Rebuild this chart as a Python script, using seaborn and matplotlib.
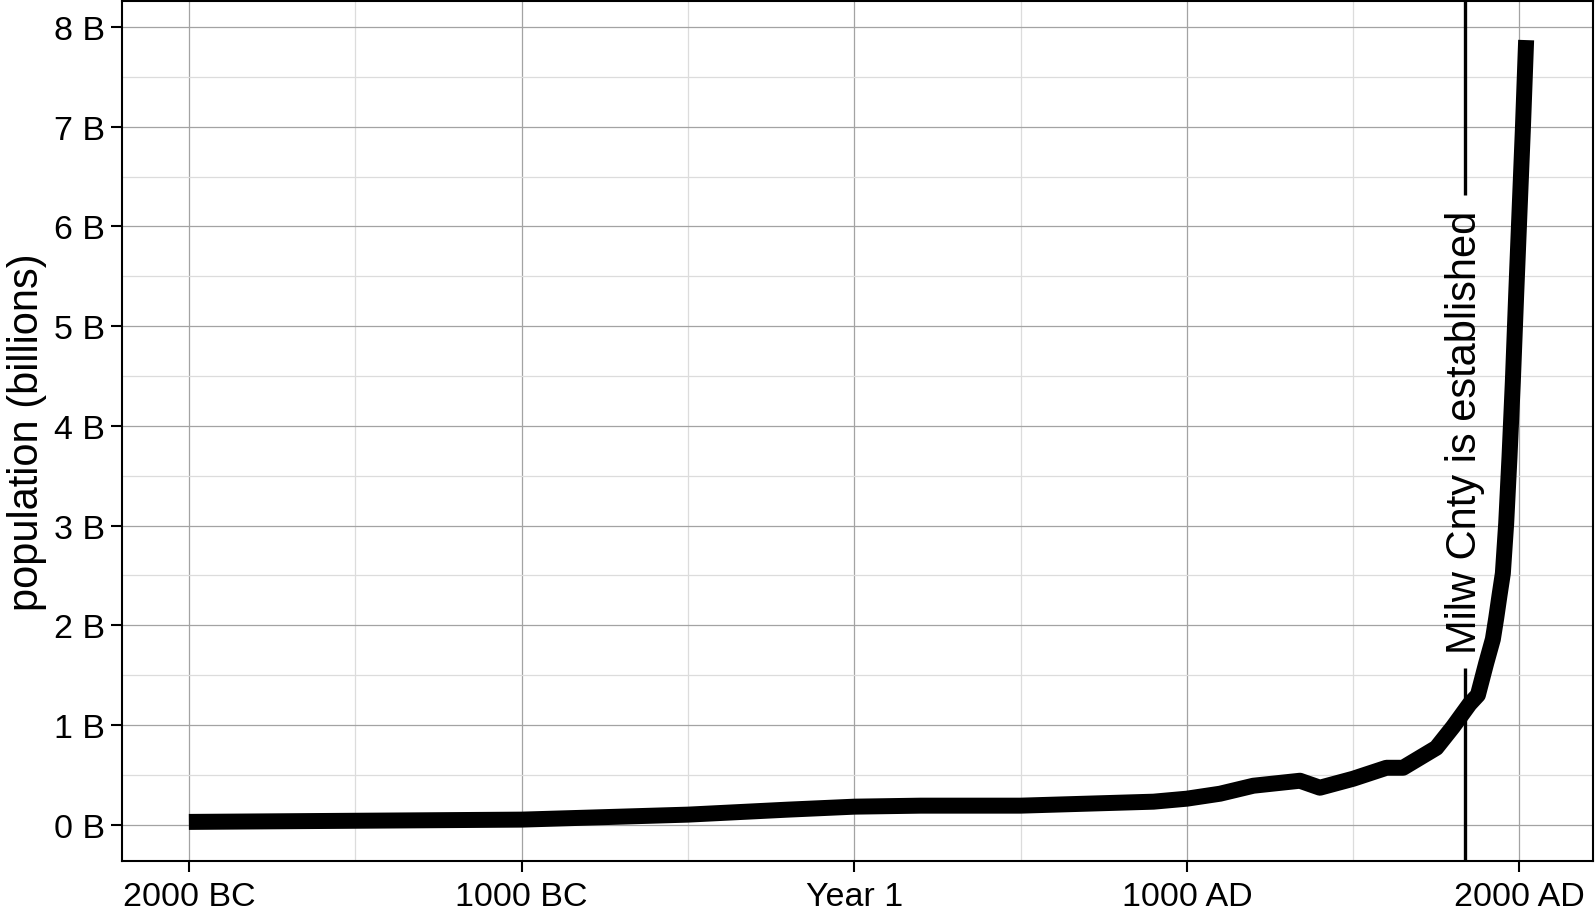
import matplotlib
matplotlib.use("Agg")
import matplotlib.pyplot as plt
from matplotlib.ticker import MultipleLocator
import pandas as pd
import seaborn as sns

# ---------------- data ----------------
years = [-2000, -1000, -500, -200, 1, 200, 400, 500, 600, 700, 800, 900,
         1000, 1100, 1200, 1340, 1400, 1500, 1600, 1650, 1750, 1800,
         1850, 1875, 1900, 1920, 1930, 1940, 1950, 1960, 1970, 1980,
         1990, 2000, 2010, 2020]
population = [0.027, 0.05, 0.10, 0.15, 0.18, 0.19, 0.19, 0.19, 0.20, 0.21,
              0.22, 0.23, 0.26, 0.31, 0.39, 0.44, 0.37, 0.46, 0.57, 0.57,
              0.77, 0.98, 1.21, 1.30, 1.62, 1.86, 2.07, 2.30, 2.52, 3.02,
              3.69, 4.44, 5.31, 6.14, 6.96, 7.87]

x_ticks = [-2000, -1000, 0, 1000, 2000]
x_tick_labels = ["2000 BC", "1000 BC", "Year 1", "1000 AD", "2000 AD"]
y_ticks = [0, 1, 2, 3, 4, 5, 6, 7, 8]
y_tick_labels = [f"{v} B" for v in y_ticks]

milw_year = 1835
milw_label = "Milw Cnty is established"
y_title = "population (billions)"

# ---------------- style ----------------
sns.set_theme(style="white")
plt.rcParams["font.family"] = ["Liberation Sans", "DejaVu Sans"]

W, H = 1595, 912
fig = plt.figure(figsize=(W / 100, H / 100), dpi=100)
ax = fig.add_axes([122 / W, 50 / H, 1471 / W, 860 / H])

df = pd.DataFrame({"year": years, "population": population})
sns.lineplot(data=df, x="year", y="population", ax=ax, color="black",
             linewidth=11.5, sort=False, estimator=None, zorder=3)
for ln in ax.lines:
    ln.set_solid_capstyle("butt")
    ln.set_solid_joinstyle("round")

# ggplot-like 5% expansion
xr = max(years) - min(years)
yr = max(population) - min(population)
xlim = (min(years) - 0.05 * xr, max(years) + 0.05 * xr)
ylim = (min(population) - 0.05 * yr, max(population) + 0.05 * yr)
ax.set_xlim(*xlim)
ax.set_ylim(*ylim)

ax.set_xticks(x_ticks)
ax.set_xticklabels(x_tick_labels)
ax.set_yticks(y_ticks)
ax.set_yticklabels(y_tick_labels)
ax.xaxis.set_minor_locator(MultipleLocator(500))
ax.yaxis.set_minor_locator(MultipleLocator(0.5))

ax.grid(which="major", color="#a3a3a3", linewidth=0.9)
ax.grid(which="minor", color="#dcdcdc", linewidth=0.9)
ax.set_axisbelow(True)

ax.tick_params(which="major", length=8, width=1.5, color="black",
               labelsize=24.5, pad=4, labelcolor="black",
               bottom=True, left=True)
ax.tick_params(axis="x", which="major", pad=6.5)
ax.tick_params(which="minor", length=0)

for sp in ax.spines.values():
    sp.set_color("black")
    sp.set_linewidth(1.5)

ax.set_xlabel("")
ax.set_ylabel(y_title, fontsize=30, labelpad=5, color="black")

# annotation text and a vertical line with a gap around it
txt = ax.text(milw_year, 3.94, milw_label, rotation=90, ha="center",
              va="center", fontsize=30, color="black", zorder=4)
fig.canvas.draw()
bb = txt.get_window_extent(renderer=fig.canvas.get_renderer())
inv = ax.transData.inverted()
gap_lo = inv.transform((0, bb.y0 - 15))[1]
gap_hi = inv.transform((0, bb.y1 + 15))[1]
ax.plot([milw_year, milw_year], [ylim[0], gap_lo], color="black",
        linewidth=2.4, solid_capstyle="butt", zorder=2)
ax.plot([milw_year, milw_year], [gap_hi, ylim[1]], color="black",
        linewidth=2.4, solid_capstyle="butt", zorder=2)

fig.savefig("out.png", dpi=100)
